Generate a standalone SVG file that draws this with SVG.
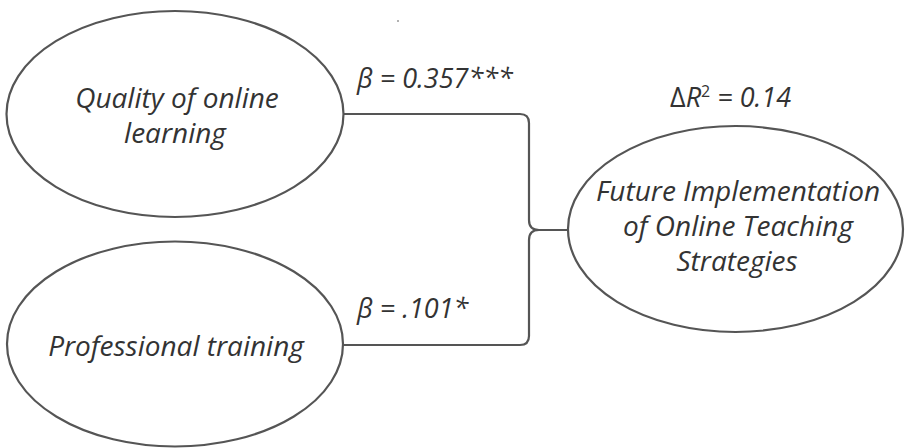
<svg xmlns="http://www.w3.org/2000/svg" width="905" height="448" viewBox="0 0 905 448">
<style>
.node{fill:#fff;stroke:#555;stroke-width:2.2}
.lbl{font-family:"Open Sans","Noto Sans","DejaVu Sans",sans-serif;font-style:italic;font-size:28px;fill:#333;text-anchor:middle}
.coef{font-family:"Open Sans","Noto Sans","DejaVu Sans",sans-serif;font-style:italic;font-size:27px;fill:#333}
.conn{fill:none;stroke:#555;stroke-width:2.2}
</style>
<rect width="905" height="448" fill="#fff"/>
<circle cx="398" cy="21" r="1" fill="#999"/>
<g id="connectors">
<path class="conn" d="M344 114 H520 Q529 114 529 123 V220 Q529 230 539 230 H568"/>
<path class="conn" d="M343 345 H520 Q529 345 529 336 V240 Q529 230 539 230"/>
<text class="coef" x="357" y="88">β = 0.357***</text>
<text class="coef" x="357" y="318">β = .101*</text>
<text class="coef" x="670" y="107"><tspan font-style="normal">Δ</tspan>R<tspan font-style="normal" font-size="16" dy="-10">2</tspan><tspan dy="10"> = 0.14</tspan></text>
</g>
<g id="quality">
<ellipse class="node" cx="175" cy="114" rx="168.5" ry="103"/>
<text class="lbl" x="177" y="108">Quality of online</text>
<text class="lbl" x="175" y="143">learning</text>
</g>
<g id="training">
<ellipse class="node" cx="175" cy="344" rx="168" ry="102.5"/>
<text class="lbl" x="176" y="356">Professional training</text>
</g>
<g id="future">
<ellipse class="node" cx="735.5" cy="229" rx="167.5" ry="103"/>
<text class="lbl" x="738" y="201">Future Implementation</text>
<text class="lbl" x="738" y="236">of Online Teaching</text>
<text class="lbl" x="737" y="271">Strategies</text>
</g>
</svg>
